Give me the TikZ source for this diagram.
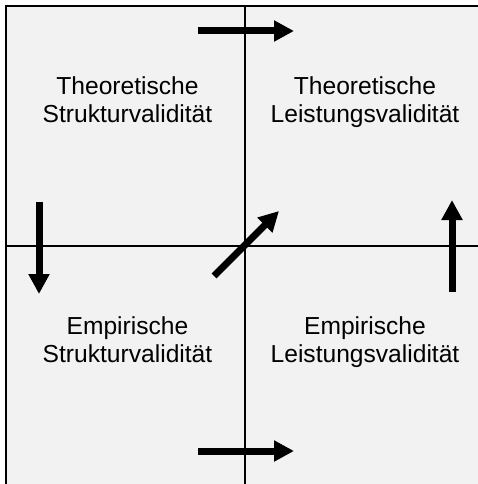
\documentclass[tikz,border=0pt]{standalone}
\usepackage{fontspec}
\setmainfont{Liberation Sans}
\usetikzlibrary{arrows.meta}
\definecolor{bg}{HTML}{F2F2F2}
\tikzset{
  x=1pt, y=-1pt,
  lbl/.style={align=center, font=\fontsize{24.6}{28}\selectfont, inner sep=0pt, anchor=base},
  bigarrow/.style={line width=7pt, -{Triangle[length=20pt,width=20pt]}},
  axis/.style={line width=1.8pt},
  frameline/.style={line width=2pt}
}
\begin{document}
\begin{tikzpicture}
\useasboundingbox (0,0) rectangle (478,484);
\clip (0,0) rectangle (478,484);
\fill[bg] (6,6) rectangle (490,490);
\draw[frameline] (6,500) -- (6,6) -- (500,6);
\coordinate (vt) at (245,6);
\coordinate (vb) at (245,490);
\coordinate (hl) at (6,246);
\coordinate (hr) at (490,246);
\draw[axis] (vt) -- (vb);
\draw[axis] (hl) -- (hr);
\node[lbl] (tl) at (127.5,122) {Theoretische\\Strukturvalidität};
\node[lbl] (tr) at (365,122) {Theoretische\\Leistungsvalidität};
\node[lbl] (bl) at (127.5,362) {Empirische\\Strukturvalidität};
\node[lbl] (br) at (365,362) {Empirische\\Leistungsvalidität};
\coordinate (a1s) at (198,31); \coordinate (a1e) at (294,31);
\coordinate (a2s) at (198,451); \coordinate (a2e) at (294,451);
\coordinate (a3s) at (39,202); \coordinate (a3e) at (39,294);
\coordinate (a4s) at (452,292); \coordinate (a4e) at (452,200);
\coordinate (a5s) at (214,276); \coordinate (a5e) at (279,211);
\draw[bigarrow] (a1s) -- (a1e);
\draw[bigarrow] (a2s) -- (a2e);
\draw[bigarrow] (a3s) -- (a3e);
\draw[bigarrow] (a4s) -- (a4e);
\draw[bigarrow] (a5s) -- (a5e);
\end{tikzpicture}
\end{document}
